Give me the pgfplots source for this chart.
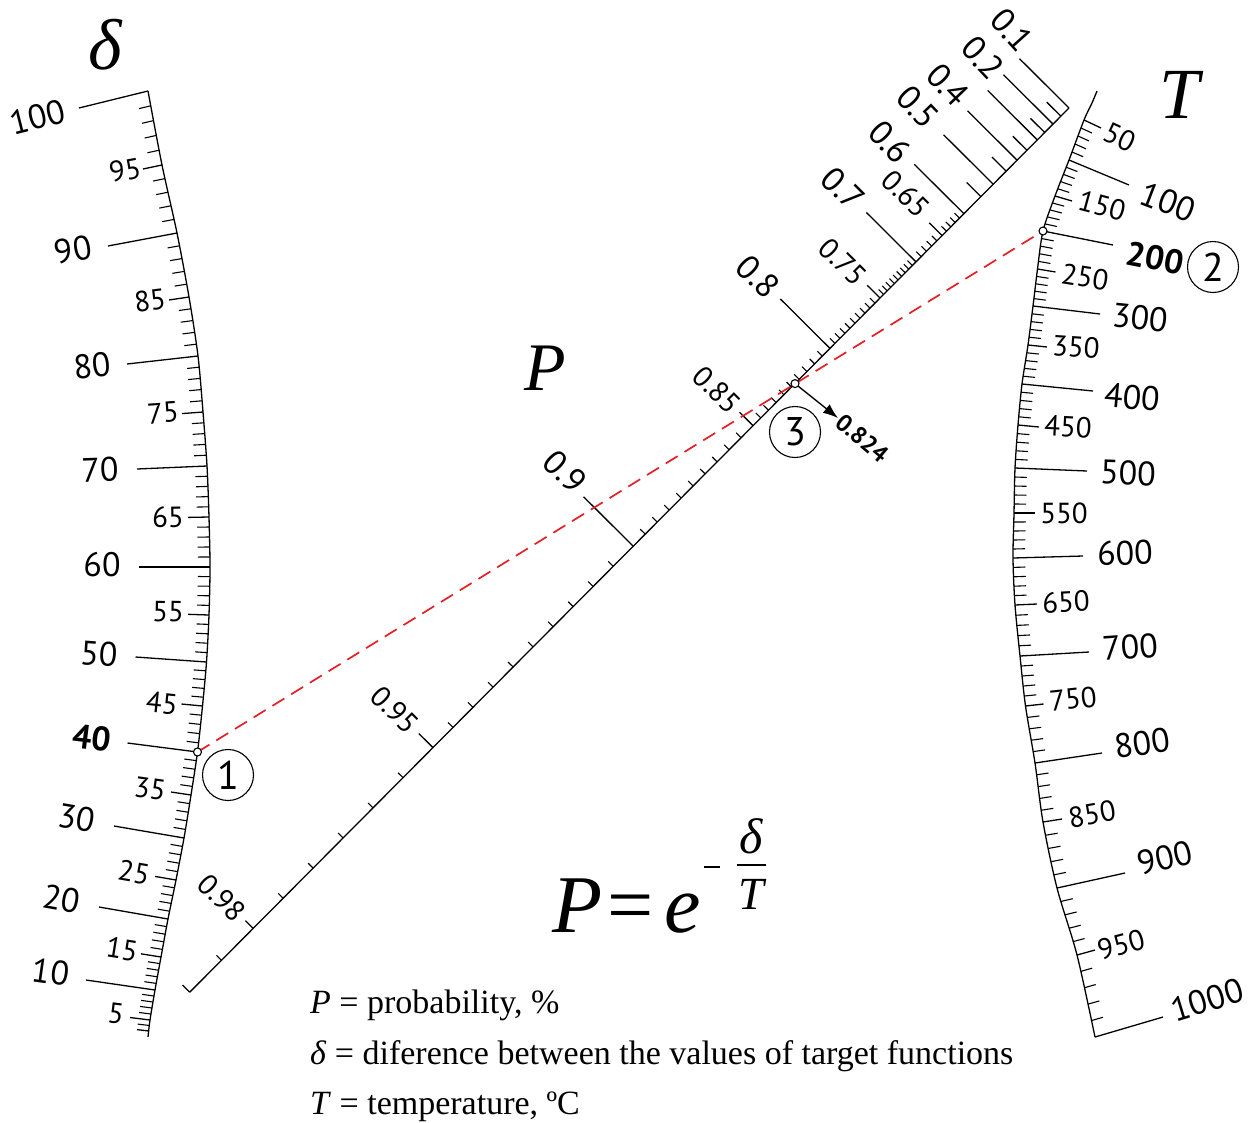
\documentclass[border=0pt]{standalone}
\usepackage{fontspec}
\setmainfont{PT Sans}
\newfontfamily\tms{Liberation Serif}
\usepackage{pgfplots}
\usepackage{pgfplotstable}
\pgfplotsset{compat=1.18}
\usetikzlibrary{arrows.meta}
\definecolor{nomred}{RGB}{228,32,38}
\newcommand\Lbig{\fontsize{34}{36}\selectfont}
\newcommand\Lsml{\fontsize{29}{31}\selectfont}

% delta scale: value, tick base (x,y), tick vector (ux,uy), subdivisions to next row
\pgfplotstableread{
v    x      y     ux    uy    n
100  148    91   -69    17    5
95   162    165  -19    4     5
90   177    233  -69    13    5
85   189    297  -20    3     5
80   198    356  -71    8     5
75   203    412  -21    1.6   5
70   207    466  -70    3     5
65   209    517  -21    0.4   5
60   210    567  -71    0     5
55   209    615  -21   -0.7   5
50   206.5  662  -71   -5     5
45   202.5  706  -21   -2     5
40   197.5  752  -70   -9     5
35   191    795  -20   -3     5
30   184    838  -70   -12    5
25   176    880  -21   -3.6   5
20   168    919  -69   -12    5
15   161    957  -20   -3.2   5
10   155    990  -69   -10    5
5    150    1020 -20   -2.5   2
3    149    1031 -12   -1.4   0
}\dtab

% temperature scale
\pgfplotstableread{
v     x       y     ux    uy    n
50    1084    120   17    8     5
100   1069    160   60    25    5
150   1055    196   17    5     5
200   1043    231   70    14    5
250   1037.5  269   18    3     5
300   1033    306   67    8     5
350   1028    345   19    2     5
400   1022    384   71    7     5
450   1018    425   21    2     5
500   1015    468   72    3     5
550   1014    513   21    0     5
600   1013    558   70   -2     5
650   1015    605   22   -1     5
700   1020    656   69   -4     5
750   1025.5  706   18   -2     5
800   1035    763   67   -10    5
850   1043    822   19   -3     5
900   1057    888   68   -15    5
950   1077    955   18   -5     5
1000  1095    1037  68   -20    0
}\ttab

% probability scale (straight line)
\pgfplotstableread{
v     x       y      ux     uy     n
0.10  1069    108   -49.6  -49.4   1
0.15  1060.9  116.2 -14.2  -14.1   1
0.20  1053.0  124.1 -49.6  -49.4   1
0.25  1044.7  132.5 -14.2  -14.1   1
0.30  1037.3  139.9 -49.6  -49.4   1
0.35  1027.0  150.3 -14.2  -14.1   1
0.40  1017.1  160.2 -49.6  -49.4   1
0.45  1006.2  171.2 -14.2  -14.1   1
0.50  993.2   184.2 -49.6  -49.4   1
0.55  980.9   196.6 -14.2  -14.1   1
0.60  963.9   213.7 -49.6  -49.4   5
0.65  942.1   235.6 -12.8  -12.7   5
0.70  916.0   261.9 -49.6  -49.4   10
0.75  880.0   298.0 -12.8  -12.7   10
0.80  830.0   348.4 -49.6  -49.4   10
0.85  753.1   425.7 -13.5  -13.4   10
0.90  633.2   546.2 -49.6  -49.4   10
0.95  433.0   747.6 -14.2  -14.1   6
0.98  253.2   928.4  -7.8   -7.8   2
0.99  189.7   992.2  -7.1   -7.1   0
}\ptab

% graduation between the listed ticks: #1 table, #2 tick length, #3 result macro
\newcommand\buildminor[3]{%
  \pgfplotstablegetrowsof{#1}%
  \pgfmathtruncatemacro\lastrow{\pgfplotsretval-2}%
  \gdef#3{}%
  \foreach \i in {0,...,\lastrow}{%
    \pgfmathtruncatemacro\jj{\i+1}%
    \pgfplotstablegetelem{\i}{x}\of{#1}\let\xa\pgfplotsretval
    \pgfplotstablegetelem{\i}{y}\of{#1}\let\ya\pgfplotsretval
    \pgfplotstablegetelem{\i}{ux}\of{#1}\let\ua\pgfplotsretval
    \pgfplotstablegetelem{\i}{uy}\of{#1}\let\va\pgfplotsretval
    \pgfplotstablegetelem{\i}{n}\of{#1}\let\nn\pgfplotsretval
    \pgfplotstablegetelem{\jj}{x}\of{#1}\let\xb\pgfplotsretval
    \pgfplotstablegetelem{\jj}{y}\of{#1}\let\yb\pgfplotsretval
    \pgfplotstablegetelem{\jj}{ux}\of{#1}\let\ub\pgfplotsretval
    \pgfplotstablegetelem{\jj}{uy}\of{#1}\let\vb\pgfplotsretval
    \pgfmathsetmacro\lena{veclen(\ua,\va)}%
    \pgfmathsetmacro\lenb{veclen(\ub,\vb)}%
    \pgfmathtruncatemacro\mm{\nn-1}%
    \ifnum\mm>0
      \foreach \k in {1,...,\mm}{%
        \pgfmathsetmacro\pp{\k/\nn}%
        \pgfmathsetmacro\bx{\xa+\pp*(\xb-\xa)}%
        \pgfmathsetmacro\by{\ya+\pp*(\yb-\ya)}%
        \pgfmathsetmacro\nx{(1-\pp)*\ua/\lena+\pp*\ub/\lenb}%
        \pgfmathsetmacro\ny{(1-\pp)*\va/\lena+\pp*\vb/\lenb}%
        \pgfmathsetmacro\ex{\bx+#2*\nx}%
        \pgfmathsetmacro\ey{\by+#2*\ny}%
        \xdef#3{#3 (\bx,\by) (\ex,\ey) (nan,nan)}%
      }%
    \fi
  }%
}

\begin{document}
\begin{tikzpicture}
\buildminor{\dtab}{12}{\dminor}
\buildminor{\ttab}{12}{\tminor}
\buildminor{\ptab}{7}{\pminor}
\begin{axis}[
  width=1249pt, height=1122pt, scale only axis,
  xmin=0, xmax=1249, ymin=0, ymax=1122, y dir=reverse,
  hide axis, clip=false]

% scale carriers
\addplot[black, line width=1.3pt, smooth] coordinates {
  (148,91) (162,165) (177,233) (189,297) (198,356) (203,412) (207,466)
  (209,517) (210,567) (209,615) (206.5,662) (202.5,706) (197.5,752)
  (191,795) (184,838) (176,880) (168,919) (161,957) (155,990) (150,1020) (148,1037)};
\addplot[black, line width=1.3pt, smooth] coordinates {
  (1097,91) (1092,103) (1084,120) (1069,160) (1055,196) (1043,231) (1037.5,269)
  (1033,306) (1028,345) (1022,384) (1018,425) (1015,468) (1014,513) (1013,558)
  (1015,605) (1020,656) (1025.5,706) (1035,763) (1043,822) (1057,888) (1077,955) (1095,1037)};
\addplot[black, line width=1.3pt] coordinates {(1069,108) (189.7,992.2)};

% labelled ticks
\addplot[black, line width=1.3pt, quiver={u=\thisrow{ux}, v=\thisrow{uy}}] table[x=x, y=y] {\dtab};
\addplot[black, line width=1.3pt, quiver={u=\thisrow{ux}, v=\thisrow{uy}}] table[x=x, y=y] {\ttab};
\addplot[black, line width=1.3pt, quiver={u=\thisrow{ux}, v=\thisrow{uy}}] table[x=x, y=y] {\ptab};

% graduation
\edef\doplot{\noexpand\addplot[black, line width=1.1pt, unbounded coords=jump] coordinates {\dminor};}\doplot
\edef\doplot{\noexpand\addplot[black, line width=1.1pt, unbounded coords=jump] coordinates {\tminor};}\doplot
\edef\doplot{\noexpand\addplot[black, line width=1.1pt, unbounded coords=jump] coordinates {\pminor};}\doplot

% worked example: delta = 40, T = 200 gives P = 0.824
\addplot[nomred, line width=1.7pt, dash pattern=on 14pt off 8pt] coordinates {(197.5,752) (1043,231)};
\addplot[black, line width=1.4pt, -{Latex[length=15pt,width=11pt]}] coordinates {(798,386) (838,418)};
\addplot[only marks, mark=*, mark size=4pt, mark options={fill=white, draw=black, line width=1.1pt}]
  coordinates {(197.5,752) (1043,231) (795,383.6)};

% delta labels
\node[rotate=14] at (axis cs:38,117) {\Lbig 100};
\node[rotate=10] at (axis cs:125,170) {\Lsml 95};
\node[rotate=10] at (axis cs:73,250) {\Lbig 90};
\node[rotate=7] at (axis cs:150,300) {\Lsml 85};
\node[rotate=6] at (axis cs:92,366) {\Lbig 80};
\node[rotate=4] at (axis cs:163,413) {\Lsml 75};
\node[rotate=2] at (axis cs:100,470) {\Lbig 70};
\node[rotate=1] at (axis cs:168,517) {\Lsml 65};
\node at (axis cs:102,565) {\Lbig 60};
\node[rotate=-1] at (axis cs:168,612) {\Lsml 55};
\node[rotate=-4] at (axis cs:99,654) {\Lbig 50};
\node[rotate=-6] at (axis cs:162,703) {\Lsml 45};
\node[rotate=-7] at (axis cs:92,738) {\Lbig\bfseries 40};
\node[rotate=-8] at (axis cs:150,789) {\Lsml 35};
\node[rotate=-10] at (axis cs:77,818) {\Lbig 30};
\node[rotate=-10] at (axis cs:134,872) {\Lsml 25};
\node[rotate=-10] at (axis cs:62,899) {\Lbig 20};
\node[rotate=-9] at (axis cs:122,949) {\Lsml 15};
\node[rotate=-8] at (axis cs:51,972) {\Lbig 10};
\node[rotate=-7] at (axis cs:116,1014) {\Lsml 5};

% temperature labels
\node[rotate=-25] at (axis cs:1120,137) {\Lsml 50};
\node[rotate=-21] at (axis cs:1168,202) {\Lbig 100};
\node[rotate=-15] at (axis cs:1102,206) {\Lsml 150};
\node[rotate=-11] at (axis cs:1155,258) {\Lbig\bfseries 200};
\node[rotate=-9] at (axis cs:1085,277) {\Lsml 250};
\node[rotate=-6] at (axis cs:1140,318) {\Lbig 300};
\node[rotate=-4] at (axis cs:1076,347) {\Lsml 350};
\node[rotate=-5] at (axis cs:1132,397) {\Lbig 400};
\node[rotate=-3] at (axis cs:1068,427) {\Lsml 450};
\node[rotate=-2] at (axis cs:1128,473) {\Lbig 500};
\node at (axis cs:1064,513) {\Lsml 550};
\node[rotate=2] at (axis cs:1125,553) {\Lbig 600};
\node[rotate=3] at (axis cs:1066,602) {\Lsml 650};
\node[rotate=4] at (axis cs:1130,647) {\Lbig 700};
\node[rotate=6] at (axis cs:1073,699) {\Lsml 750};
\node[rotate=8] at (axis cs:1142,743) {\Lbig 800};
\node[rotate=10] at (axis cs:1092,814) {\Lsml 850};
\node[rotate=13] at (axis cs:1165,858) {\Lbig 900};
\node[rotate=15] at (axis cs:1121,945) {\Lsml 950};
\node[rotate=17] at (axis cs:1207,1000) {\Lbig 1000};

% probability labels
\node[rotate=-48] at (axis cs:1012,30) {\Lbig 0.1};
\node[rotate=-47] at (axis cs:983,58) {\Lbig 0.2};
\node[rotate=-46] at (axis cs:948,85) {\Lbig 0.4};
\node[rotate=-46] at (axis cs:918,107) {\Lbig 0.5};
\node[rotate=-46] at (axis cs:890,142) {\Lbig 0.6};
\node[rotate=-45] at (axis cs:906,194) {\Lsml 0.65};
\node[rotate=-45] at (axis cs:843,189) {\Lbig 0.7};
\node[rotate=-45] at (axis cs:843,262) {\Lsml 0.75};
\node[rotate=-45] at (axis cs:758,277) {\Lbig 0.8};
\node[rotate=-45] at (axis cs:717,390) {\Lsml 0.85};
\node[rotate=-45] at (axis cs:565,472) {\Lbig 0.9};
\node[rotate=-45] at (axis cs:395,710) {\Lsml 0.95};
\node[rotate=-45] at (axis cs:222,898) {\Lsml 0.98};
\node[rotate=-40] at (axis cs:862,438) {\fontsize{24}{26}\selectfont\bfseries 0.824};

% step markers
\node[draw, circle, minimum size=51pt, inner sep=0pt, line width=1.1pt] at (axis cs:228,775) {\fontsize{40}{40}\selectfont 1};
\node[draw, circle, minimum size=51pt, inner sep=0pt, line width=1.1pt] at (axis cs:1213,267) {\fontsize{40}{40}\selectfont 2};
\node[draw, circle, minimum size=51pt, inner sep=0pt, line width=1.1pt] at (axis cs:795,432) {\fontsize{40}{40}\selectfont 3};

% scale names
\node at (axis cs:105,45) {\fontsize{72}{72}\selectfont\tms\itshape δ};
\node at (axis cs:1180,95) {\fontsize{72}{72}\selectfont\tms\itshape T};
\node at (axis cs:545,368) {\fontsize{68}{68}\selectfont\tms\itshape P};

% formula
\node[anchor=base] at (axis cs:578,932) {\fontsize{82}{82}\selectfont\tms\itshape P};
\node[anchor=base] at (axis cs:631,932) {\fontsize{82}{82}\selectfont\tms =};
\node[anchor=base] at (axis cs:683,932) {\fontsize{82}{82}\selectfont\tms\itshape e};
\node at (axis cs:712,867) {\rule{16pt}{2.8pt}};
\node at (axis cs:751,836) {\fontsize{50}{50}\selectfont\tms\itshape δ};
\node at (axis cs:751,865) {\rule{29pt}{1.3pt}};
\node at (axis cs:751,894) {\fontsize{46}{46}\selectfont\tms\itshape T};

% legend
\node[anchor=base west, inner sep=0pt] at (axis cs:310,1013) {\fontsize{34}{40}\selectfont\tms\textit{P} = probability, \%};
\node[anchor=base west, inner sep=0pt] at (axis cs:310,1064) {\fontsize{34}{40}\selectfont\tms\textit{δ} = diference between the values of target functions};
\node[anchor=base west, inner sep=0pt] at (axis cs:310,1114) {\fontsize{34}{40}\selectfont\tms\textit{T} = temperature, ºC};
\end{axis}
\pgfresetboundingbox
\path (current axis.south west) rectangle (current axis.north east);
\end{tikzpicture}
\end{document}
